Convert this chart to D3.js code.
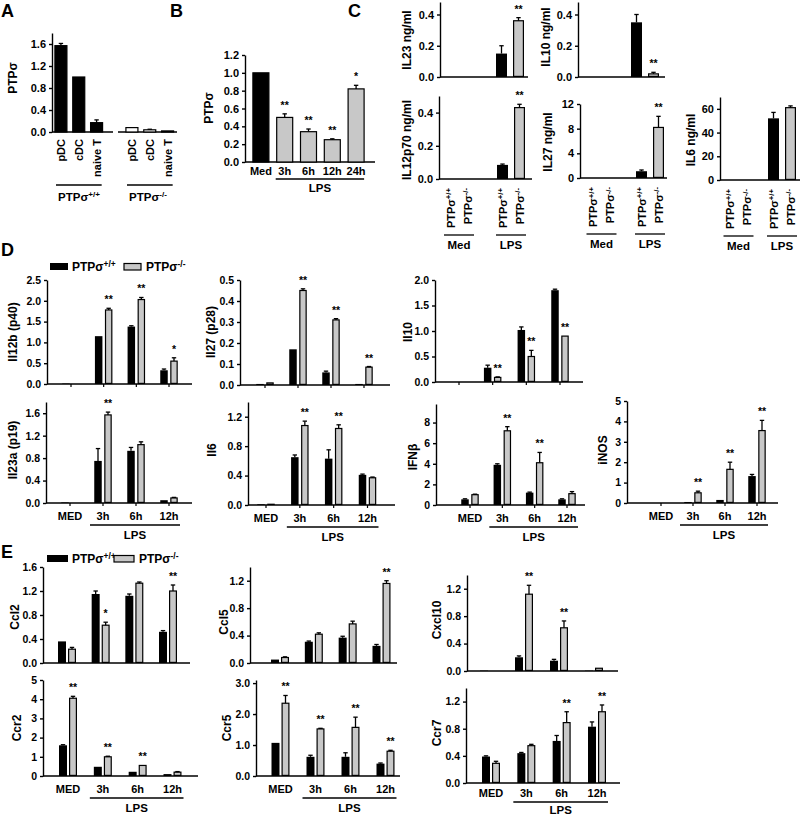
<!DOCTYPE html>
<html>
<head>
<meta charset="utf-8">
<script src="https://cdn.jsdelivr.net/npm/d3@7"></script>
<style>
body{margin:0;background:#fff;}
svg text{font-family:"Liberation Sans",Arial,sans-serif;font-weight:bold;fill:#000;}
.axis path,.axis line{stroke:#000;stroke-width:1.4;}
</style>
</head>
<body>
<div id="canvas"></div>
<script>
// ---- data ----
// A
var aCells = ["pDC", "cDC", "naive T"];
var aWT = [1.57, 1.00, 0.17], aWTErr = [0.04, 0, 0.05];
var aKO = [0.08, 0.04, 0.02], aKOErr = [0, 0.01, 0.005];
var aTicks = [0, 0.4, 0.8, 1.2, 1.6];
// B
var bTimes = ["Med", "3h", "6h", "12h", "24h"];
var bVals = [1.0, 0.5, 0.34, 0.25, 0.82];
var bErr = [0, 0.04, 0.03, 0.01, 0.04];
var bStars = ["", "**", "**", "**", "*"];
var bTicks = [0, 0.2, 0.4, 0.6, 0.8, 1.0, 1.2];
// C (ng/ml)
var cGroups = ["Med", "LPS"];
var il23cWT = [0, 0.15], il23cWTErr = [0, 0.05], il23cKO = [0, 0.36], il23cKOErr = [0, 0.02], il23cStars = ["", "**"];
var il10cWT = [0, 0.35], il10cWTErr = [0, 0.05], il10cKO = [0, 0.02], il10cKOErr = [0, 0.01], il10cStars = ["", "**"];
var il12p70WT = [0, 0.085], il12p70WTErr = [0, 0.005], il12p70KO = [0, 0.43], il12p70KOErr = [0, 0.02], il12p70Stars = ["", "**"];
var il27cWT = [0, 1.1], il27cWTErr = [0, 0.2], il27cKO = [0, 8.2], il27cKOErr = [0, 1.8], il27cStars = ["", "**"];
var il6cWT = [0, 52], il6cWTErr = [0, 5], il6cKO = [0, 61], il6cKOErr = [0, 1.5], il6cStars = ["", ""];
// D, E
var times = ["MED", "3h", "6h", "12h"];
var il12bWT = [0.01, 1.15, 1.38, 0.33], il12bWTErr = [0, 0, 0.02, 0.03];
var il12bKO = [0.01, 1.78, 2.03, 0.55], il12bKOErr = [0, 0.04, 0.05, 0.08], il12bStars = ["", "**", "**", "*"];
var il27WT = [0.005, 0.17, 0.06, 0.005], il27WTErr = [0, 0, 0.006, 0];
var il27KO = [0.01, 0.45, 0.31, 0.085], il27KOErr = [0.002, 0.008, 0.006, 0.003], il27Stars = ["", "**", "**", "**"];
var il10WT = [0, 0.28, 1.02, 1.8], il10WTErr = [0, 0.05, 0.06, 0.02];
var il10KO = [0, 0.09, 0.5, 0.9], il10KOErr = [0, 0.01, 0.12, 0], il10Stars = ["", "**", "**", "**"];
var il23aWT = [0.01, 0.75, 0.93, 0.05], il23aWTErr = [0, 0.22, 0.06, 0.005];
var il23aKO = [0.01, 1.57, 1.04, 0.09], il23aKOErr = [0, 0.05, 0.05, 0.01], il23aStars = ["", "**", "", ""];
var il6WT = [0.01, 0.65, 0.63, 0.41], il6WTErr = [0, 0.03, 0.12, 0.01];
var il6KO = [0.01, 1.08, 1.04, 0.37], il6KOErr = [0, 0.06, 0.05, 0.01], il6Stars = ["", "**", "**", ""];
var ifnbWT = [0.55, 3.9, 1.2, 0.55], ifnbWTErr = [0.05, 0.1, 0.05, 0.05];
var ifnbKO = [1.0, 7.2, 4.1, 1.1], ifnbKOErr = [0.05, 0.4, 1.0, 0.2], ifnbStars = ["", "**", "**", ""];
var inosWT = [0, 0.05, 0.15, 1.32], inosWTErr = [0, 0, 0.02, 0.08];
var inosKO = [0, 0.5, 1.65, 3.55], inosKOErr = [0, 0.08, 0.35, 0.5], inosStars = ["", "**", "**", "**"];
var ccl2WT = [0.36, 1.15, 1.12, 0.52], ccl2WTErr = [0, 0.05, 0.03, 0.02];
var ccl2KO = [0.23, 0.63, 1.33, 1.2], ccl2KOErr = [0.03, 0.05, 0.02, 0.1], ccl2Stars = ["", "*", "", "**"];
var ccl5WT = [0.05, 0.31, 0.37, 0.25], ccl5WTErr = [0, 0.01, 0.02, 0.02];
var ccl5KO = [0.08, 0.42, 0.57, 1.16], ccl5KOErr = [0.01, 0.02, 0.04, 0.04], ccl5Stars = ["", "", "", "**"];
var cxcl10WT = [0.005, 0.2, 0.15, 0.005], cxcl10WTErr = [0, 0.02, 0.02, 0];
var cxcl10KO = [0.005, 1.12, 0.63, 0.04], cxcl10KOErr = [0, 0.13, 0.1, 0.005], cxcl10Stars = ["", "**", "**", ""];
var ccr2WT = [1.6, 0.48, 0.22, 0.1], ccr2WTErr = [0.03, 0.02, 0.02, 0];
var ccr2KO = [4.05, 1.0, 0.55, 0.2], ccr2KOErr = [0.1, 0.03, 0.02, 0.03], ccr2Stars = ["**", "**", "**", ""];
var ccr5WT = [1.07, 0.62, 0.62, 0.4], ccr5WTErr = [0, 0.05, 0.13, 0.02];
var ccr5KO = [2.35, 1.52, 1.57, 0.8], ccr5KOErr = [0.25, 0.02, 0.33, 0.03], ccr5Stars = ["**", "**", "**", "**"];
var ccr7WT = [0.39, 0.44, 0.62, 0.83], ccr7WTErr = [0.01, 0.01, 0.08, 0.07];
var ccr7KO = [0.29, 0.55, 0.89, 1.05], ccr7KOErr = [0.03, 0.02, 0.16, 0.1], ccr7Stars = ["", "", "**", "**"];

var GREY = '#c8c8c8';
var svg = d3.select('#canvas').append('svg').attr('width', 800).attr('height', 817);

function txt(x, y, s, size, anchor){
    return svg.append('text').attr('x', x).attr('y', y).attr('text-anchor', anchor || 'middle')
        .style('font-size', size + 'px').text(s);
}
function sup(sel, base, s){
    sel.append('tspan').text(base);
    sel.append('tspan').attr('dy', '-0.45em').style('font-size', '0.7em').text(s);
}
function yLabel(s, x, y, size){
    svg.append('text').attr('transform', 'translate(' + x + ',' + y + ') rotate(-90)')
        .attr('text-anchor', 'middle').attr('dy', '0.35em').style('font-size', (size || 12) + 'px').text(s);
}
function hline(x1, x2, y, w){
    svg.append('line').attr('x1', x1).attr('x2', x2).attr('y1', y).attr('y2', y)
        .attr('stroke', '#000').attr('stroke-width', w || 1.4);
}
function yAxis(p){
    var y = d3.scaleLinear().domain([0, p.max]).range([p.y0, p.yTop]);
    svg.append('g').attr('class', 'axis').attr('transform', 'translate(' + p.x0 + ',0)')
        .call(d3.axisLeft(y).tickValues(p.ticks).tickFormat(d3.format(p.fmt))
            .tickSize(3).tickSizeOuter(0).tickPadding(3))
        .selectAll('text').style('font-size', (p.fs || 11) + 'px');
    return y;
}
function errBar(x, yb, yt){
    if (Math.abs(yb - yt) < 0.5) return;
    svg.append('line').attr('x1', x).attr('x2', x).attr('y1', yb).attr('y2', yt).attr('stroke', '#000').attr('stroke-width', 1.3);
    hline(x - 2.2, x + 2.2, yt, 1.3);
}
function letter(s, x, y){ txt(x, y, s, 18, 'start'); }

// grouped two-genotype panel (C, D, E)
function grouped(p){
    var y = yAxis(p);
    var n = p.cats.length;
    var step = (p.c1 - p.c0) / (n - 1);
    var x = d3.scaleBand().domain(p.cats).range([p.c0 - step / 2, p.c1 + step / 2]);
    var cx = function(c){ return x(c) + x.bandwidth() / 2; };
    var rows = p.cats.map(function(c, i){
        return {cat: c, wt: p.wt[i], wtErr: p.wtErr[i], ko: p.ko[i], koErr: p.koErr[i], star: p.stars[i]};
    });
    hline(p.x0, p.x1, p.y0);
    if (p.xticks) rows.forEach(function(d){
        svg.append('line').attr('x1', cx(d.cat)).attr('x2', cx(d.cat)).attr('y1', p.y0).attr('y2', p.y0 + 3)
            .attr('stroke', '#000').attr('stroke-width', 1.2);
    });
    svg.selectAll(null).data(rows.filter(function(d){ return d.wt > 0; })).enter().append('rect')
        .attr('x', function(d){ return cx(d.cat) - p.off - p.bw / 2; })
        .attr('y', function(d){ return y(d.wt); })
        .attr('width', p.bw)
        .attr('height', function(d){ return p.y0 - y(d.wt); })
        .attr('fill', '#000');
    svg.selectAll(null).data(rows.filter(function(d){ return d.ko > 0; })).enter().append('rect')
        .attr('x', function(d){ return cx(d.cat) + p.off - p.bw / 2 + 0.6; })
        .attr('y', function(d){ return y(d.ko); })
        .attr('width', p.bw - 1.2)
        .attr('height', function(d){ return Math.max(0, p.y0 - y(d.ko) - 0.6); })
        .attr('fill', GREY).attr('stroke', '#000').attr('stroke-width', 1.2);
    rows.forEach(function(d){
        if (d.wt > 0) errBar(cx(d.cat) - p.off, y(d.wt), y(d.wt + d.wtErr));
        if (d.ko > 0) errBar(cx(d.cat) + p.off, y(d.ko), y(d.ko + d.koErr));
        if (d.star) txt(cx(d.cat) + p.off, y(d.ko + d.koErr) - 5, d.star, 10.5);
    });
    yLabel(p.label, p.lx, p.ly);
    if (p.xlabels){
        var dy = p.lpsDy || [17, 22, 36];
        rows.forEach(function(d){ txt(cx(d.cat), p.y0 + dy[0], d.cat, 11); });
        var l1 = cx(p.cats[1]) - 13, l2 = cx(p.cats[n - 1]) + 11;
        hline(l1, l2, p.y0 + dy[1], 1.3);
        txt((l1 + l2) / 2, p.y0 + dy[2], 'LPS', 11.5);
    }
    if (p.geno){
        rows.forEach(function(d){
            [[-p.off, '+/+'], [p.off, '-/-']].forEach(function(g){
                var t = svg.append('text').attr('transform', 'translate(' + (cx(d.cat) + g[0] + 4) + ',' + (p.y0 + 9) + ') rotate(-90)')
                    .attr('text-anchor', 'end').style('font-size', '11px');
                sup(t, 'PTPσ', g[1]);
            });
            hline(cx(d.cat) - 15, cx(d.cat) + 15, p.y0 + 56, 1.3);
            txt(cx(d.cat), p.y0 + 70, d.cat, 11.5);
        });
    }
}

// ---------- A ----------
letter('A', 1, 17);
var aY = yAxis({x0: 52, y0: 132, yTop: 33, max: 1.8, ticks: aTicks, fmt: '.1f'});
var aXwt = d3.scaleBand().domain(aCells).range([52, 105.5]);
var aXko = d3.scaleBand().domain(aCells).range([123, 176.5]);
hline(52, 113, 132); hline(118, 177, 132);
[[aXwt, aWT, aWTErr, '#000'], [aXko, aKO, aKOErr, '#fff']].forEach(function(s){
    var sc = s[0];
    svg.selectAll(null).data(aCells).enter().append('rect')
        .attr('x', function(d){ return sc(d) + sc.bandwidth() / 2 - 6; })
        .attr('y', function(d, i){ return aY(s[1][i]); })
        .attr('width', 12)
        .attr('height', function(d, i){ return 132 - aY(s[1][i]); })
        .attr('fill', s[3]).attr('stroke', '#000').attr('stroke-width', 1.2);
    aCells.forEach(function(c, i){
        var cx = sc(c) + sc.bandwidth() / 2;
        errBar(cx, aY(s[1][i]), aY(s[1][i] + s[2][i]));
        svg.append('text').attr('transform', 'translate(' + (cx + 4) + ',139) rotate(-90)')
            .attr('text-anchor', 'end').style('font-size', '11px').text(c);
    });
});
hline(aXwt(aCells[0]) + 4, aXwt(aCells[2]) + 14, 185, 1.3);
hline(aXko(aCells[0]) + 4, aXko(aCells[2]) + 14, 185, 1.3);
sup(txt(79, 201, '', 11.5), 'PTPσ', '+/+');
sup(txt(148, 201, '', 11.5), 'PTPσ', '-/-');
yLabel('PTPσ', 13, 78);

// ---------- B ----------
letter('B', 170, 17);
var bY = yAxis({x0: 245, y0: 162, yTop: 55, max: 1.2, ticks: bTicks, fmt: '.1f'});
var bX = d3.scaleBand().domain(bTimes).range([249, 368]);
hline(245, 375, 162);
svg.selectAll(null).data(bTimes).enter().append('rect')
    .attr('x', function(d){ return bX(d) + bX.bandwidth() / 2 - 8; })
    .attr('y', function(d, i){ return bY(bVals[i]); })
    .attr('width', 16)
    .attr('height', function(d, i){ return 162 - bY(bVals[i]); })
    .attr('fill', function(d, i){ return i === 0 ? '#000' : GREY; })
    .attr('stroke', '#000').attr('stroke-width', 1.2);
bTimes.forEach(function(t, i){
    var cx = bX(t) + bX.bandwidth() / 2;
    errBar(cx, bY(bVals[i]), bY(bVals[i] + bErr[i]));
    if (bStars[i]) txt(cx, bY(bVals[i] + bErr[i]) - 5, bStars[i], 10.5);
    txt(cx, 175, t, 11);
});
var bl1 = bX('3h') + bX.bandwidth() / 2 - 9, bl2 = bX('24h') + bX.bandwidth() / 2 + 8;
hline(bl1, bl2, 179, 1.3);
txt((bl1 + bl2) / 2, 192, 'LPS', 11.5);
yLabel('PTPσ', 209, 108);

// ---------- C ----------
letter('C', 348, 17);
var cBase = {cats: cGroups, bw: 11, off: 8.5, fmt: '.1f'};
grouped(Object.assign({}, cBase, {x0: 440, x1: 528, y0: 77, yTop: 2, max: 0.48, ticks: [0, 0.2, 0.4],
    c0: 458.5, c1: 510, wt: il23cWT, wtErr: il23cWTErr, ko: il23cKO, koErr: il23cKOErr, stars: il23cStars,
    label: 'IL23 ng/ml', lx: 407, ly: 40}));
grouped(Object.assign({}, cBase, {x0: 578, x1: 665, y0: 77, yTop: 2, max: 0.48, ticks: [0, 0.2, 0.4],
    c0: 594, c1: 645, wt: il10cWT, wtErr: il10cWTErr, ko: il10cKO, koErr: il10cKOErr, stars: il10cStars,
    label: 'IL10 ng/ml', lx: 546, ly: 37}));
grouped(Object.assign({}, cBase, {x0: 439, x1: 532, y0: 179, yTop: 96, max: 0.5, ticks: [0, 0.2, 0.4],
    c0: 459, c1: 511, wt: il12p70WT, wtErr: il12p70WTErr, ko: il12p70KO, koErr: il12p70KOErr, stars: il12p70Stars,
    label: 'IL12p70 ng/ml', lx: 407, ly: 140, geno: true}));
grouped(Object.assign({}, cBase, {x0: 580, x1: 667, y0: 178, yTop: 104, max: 12, ticks: [0, 4, 8, 12], fmt: 'd',
    c0: 601.5, c1: 650, wt: il27cWT, wtErr: il27cWTErr, ko: il27cKO, koErr: il27cKOErr, stars: il27cStars,
    label: 'IL27 ng/ml', lx: 548, ly: 142, geno: true}));
grouped(Object.assign({}, cBase, {x0: 720, x1: 800, y0: 180, yTop: 97, max: 70, ticks: [0, 20, 40, 60], fmt: 'd',
    c0: 738.5, c1: 782, wt: il6cWT, wtErr: il6cWTErr, ko: il6cKO, koErr: il6cKOErr, stars: il6cStars,
    label: 'IL6 ng/ml', lx: 691, ly: 140, geno: true}));

// ---------- D ----------
letter('D', 1, 256);
function legend(x1, x2, y, w){
    svg.append('rect').attr('x', x1).attr('y', y - 4).attr('width', w).attr('height', 7).attr('fill', '#000');
    sup(txt(x1 + w + 4, y + 4, '', 12, 'start'), 'PTPσ', '+/+');
    svg.append('rect').attr('x', x2).attr('y', y - 3.5).attr('width', w - 1).attr('height', 6.5)
        .attr('fill', GREY).attr('stroke', '#000').attr('stroke-width', 1.2);
    sup(txt(x2 + w + 4, y + 4, '', 12, 'start'), 'PTPσ', '-/-');
}
legend(50, 124, 267, 18);
var dBase = {cats: times, bw: 7.5, off: 5, fmt: '.1f', fs: 10.5, xticks: true};
grouped(Object.assign({}, dBase, {x0: 47, x1: 192, y0: 384, yTop: 280, max: 2.5, ticks: [0, 0.5, 1, 1.5, 2, 2.5],
    c0: 71, c1: 169, wt: il12bWT, wtErr: il12bWTErr, ko: il12bKO, koErr: il12bKOErr, stars: il12bStars,
    label: 'Il12b (p40)', lx: 13, ly: 332}));
grouped(Object.assign({}, dBase, {x0: 240, x1: 390, y0: 385, yTop: 280, max: 0.5, ticks: [0, 0.1, 0.2, 0.3, 0.4, 0.5],
    c0: 265, c1: 364, wt: il27WT, wtErr: il27WTErr, ko: il27KO, koErr: il27KOErr, stars: il27Stars,
    label: 'Il27 (p28)', lx: 211, ly: 332}));
grouped(Object.assign({}, dBase, {x0: 435, x1: 583, y0: 382, yTop: 280, max: 2.0, ticks: [0, 0.5, 1, 1.5, 2],
    c0: 459, c1: 560, wt: il10WT, wtErr: il10WTErr, ko: il10KO, koErr: il10KOErr, stars: il10Stars,
    label: 'Il10', lx: 408, ly: 332}));
grouped(Object.assign({}, dBase, {x0: 46, x1: 192, y0: 503, yTop: 402, max: 1.8, ticks: [0, 0.4, 0.8, 1.2, 1.6],
    c0: 70, c1: 169, wt: il23aWT, wtErr: il23aWTErr, ko: il23aKO, koErr: il23aKOErr, stars: il23aStars,
    label: 'Il23a (p19)', lx: 13, ly: 450, xlabels: true}));
grouped(Object.assign({}, dBase, {x0: 248, x1: 395, y0: 505, yTop: 402, max: 1.4, ticks: [0, 0.4, 0.8, 1.2],
    c0: 266, c1: 367.5, wt: il6WT, wtErr: il6WTErr, ko: il6KO, koErr: il6KOErr, stars: il6Stars,
    label: 'Il6', lx: 212, ly: 450, xlabels: true}));
grouped(Object.assign({}, dBase, {x0: 436, x1: 585, y0: 505, yTop: 404, max: 9.8, ticks: [0, 2, 4, 6, 8], fmt: 'd',
    c0: 470, c1: 567, wt: ifnbWT, wtErr: ifnbWTErr, ko: ifnbKO, koErr: ifnbKOErr, stars: ifnbStars,
    label: 'IFNβ', lx: 413, ly: 457, xlabels: true}));
grouped(Object.assign({}, dBase, {x0: 627, x1: 778, y0: 503, yTop: 401, max: 5, ticks: [0, 1, 2, 3, 4, 5], fmt: 'd',
    c0: 661, c1: 757, wt: inosWT, wtErr: inosWTErr, ko: inosKO, koErr: inosKOErr, stars: inosStars,
    label: 'iNOS', lx: 603, ly: 450, xlabels: true}));

// ---------- E ----------
letter('E', 1, 558);
legend(47, 114, 559, 21);
var eBase = {cats: times, bw: 8, off: 5, fmt: '.1f', fs: 10.5, xticks: false};
grouped(Object.assign({}, eBase, {x0: 43, x1: 190, y0: 663, yTop: 567, max: 1.6, ticks: [0, 0.4, 0.8, 1.2, 1.6],
    c0: 67, c1: 168, wt: ccl2WT, wtErr: ccl2WTErr, ko: ccl2KO, koErr: ccl2KOErr, stars: ccl2Stars,
    label: 'Ccl2', lx: 15, ly: 617}));
grouped(Object.assign({}, eBase, {x0: 250, x1: 397, y0: 663, yTop: 567, max: 1.4, ticks: [0, 0.4, 0.8, 1.2],
    c0: 280, c1: 381.5, wt: ccl5WT, wtErr: ccl5WTErr, ko: ccl5KO, koErr: ccl5KOErr, stars: ccl5Stars,
    label: 'Ccl5', lx: 224, ly: 622}));
grouped(Object.assign({}, eBase, {x0: 467, x1: 618, y0: 671, yTop: 575, max: 1.4, ticks: [0, 0.4, 0.8, 1.2],
    c0: 489, c1: 594, wt: cxcl10WT, wtErr: cxcl10WTErr, ko: cxcl10KO, koErr: cxcl10KOErr, stars: cxcl10Stars,
    label: 'Cxcl10', lx: 437, ly: 620}));
grouped(Object.assign({}, eBase, {x0: 43, x1: 198, y0: 776, yTop: 680, max: 5, ticks: [0, 1, 2, 3, 4, 5], fmt: 'd',
    c0: 68, c1: 172.5, wt: ccr2WT, wtErr: ccr2WTErr, ko: ccr2KO, koErr: ccr2KOErr, stars: ccr2Stars,
    label: 'Ccr2', lx: 17, ly: 728, xlabels: true}));
grouped(Object.assign({}, eBase, {x0: 256, x1: 400, y0: 776, yTop: 680, max: 3.1, ticks: [0, 1, 2, 3],
    c0: 280.5, c1: 385.5, wt: ccr5WT, wtErr: ccr5WTErr, ko: ccr5KO, koErr: ccr5KOErr, stars: ccr5Stars,
    label: 'Ccr5', lx: 227, ly: 728, xlabels: true}));
grouped(Object.assign({}, eBase, {x0: 466, x1: 620, y0: 783, yTop: 688, max: 1.4, ticks: [0, 0.4, 0.8, 1.2],
    c0: 491, c1: 597, wt: ccr7WT, wtErr: ccr7WTErr, ko: ccr7KO, koErr: ccr7KOErr, stars: ccr7Stars,
    label: 'Ccr7', lx: 437, ly: 733, xlabels: true, lpsDy: [14, 19, 31]}));
</script>
</body>
</html>
